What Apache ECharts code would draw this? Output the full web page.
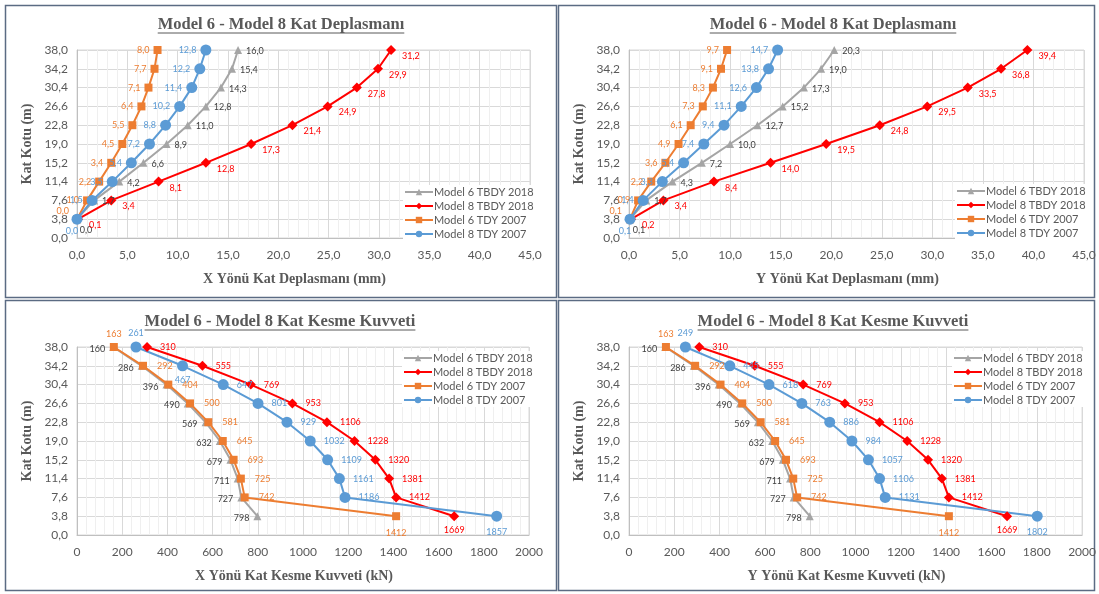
<!DOCTYPE html>
<html>
<head>
<meta charset="utf-8">
<script src="https://cdn.jsdelivr.net/npm/echarts@6.0.0/dist/echarts.min.js"></script>
<style>
  html, body { margin: 0; padding: 0; background: #fff; }
  #chart { width: 1099px; height: 594px; }
</style>
</head>
<body>
<div id="chart"></div>
<script>
// kat kotlari (m)
const heights = [3.8, 7.6, 11.4, 15.2, 19.0, 22.8, 26.6, 30.4, 34.2, 38.0];
const seriesNames = ['Model 6 TBDY 2018', 'Model 8 TBDY 2018', 'Model 6 TDY 2007', 'Model 8 TDY 2007'];

// X yonu kat deplasmani (mm)
const dispX_m6_tbdy = [0.0, 1.7, 4.2, 6.6, 8.9, 11.0, 12.8, 14.3, 15.4, 16.0];
const dispX_m8_tbdy = [0.1, 3.4, 8.1, 12.8, 17.3, 21.4, 24.9, 27.8, 29.9, 31.2];
const dispX_m6_tdy = [0.0, 1.0, 2.2, 3.4, 4.5, 5.5, 6.4, 7.1, 7.7, 8.0];
const dispX_m8_tdy = [0.0, 1.5, 3.5, 5.4, 7.2, 8.8, 10.2, 11.4, 12.2, 12.8];

// Y yonu kat deplasmani (mm)
const dispY_m6_tbdy = [0.1, 1.7, 4.3, 7.2, 10.0, 12.7, 15.2, 17.3, 19.0, 20.3];
const dispY_m8_tbdy = [0.2, 3.4, 8.4, 14.0, 19.5, 24.8, 29.5, 33.5, 36.8, 39.4];
const dispY_m6_tdy = [0.1, 0.9, 2.2, 3.6, 4.9, 6.1, 7.3, 8.3, 9.1, 9.7];
const dispY_m8_tdy = [0.1, 1.4, 3.3, 5.4, 7.4, 9.4, 11.1, 12.6, 13.8, 14.7];

// X yonu kat kesme kuvveti (kN)
const shearX_m6_tbdy = [798, 727, 711, 679, 632, 569, 490, 396, 286, 160];
const shearX_m8_tbdy = [1669, 1412, 1381, 1320, 1228, 1106, 953, 769, 555, 310];
const shearX_m6_tdy = [1412, 742, 725, 693, 645, 581, 500, 404, 292, 163];
const shearX_m8_tdy = [1857, 1186, 1161, 1109, 1032, 929, 801, 647, 467, 261];

// Y yonu kat kesme kuvveti (kN)
const shearY_m6_tbdy = [798, 727, 711, 679, 632, 569, 490, 396, 286, 160];
const shearY_m8_tbdy = [1669, 1412, 1381, 1320, 1228, 1106, 953, 769, 555, 310];
const shearY_m6_tdy = [1412, 742, 725, 693, 645, 581, 500, 404, 292, 163];
const shearY_m8_tdy = [1802, 1131, 1106, 1057, 984, 886, 763, 618, 445, 249];

const colors = ['#a5a5a5', '#ff0000', '#ed7d31', '#5b9bd5'];
const labelColors = ['#404040', '#ff0000', '#ed7d31', '#5b9bd5'];
const symbols = ['triangle', 'diamond', 'rect', 'circle'];
const symbolSizes = [8, 10, 8, 11];
const axisFont = 'Lato';
const serifFont = '"Liberation Serif", "DejaVu Serif", serif';

// label placement: default per series, then per-point tweaks
const topLabels = {
  pos: [
    { position: 'right', offset: [0, 1] },
    { position: 'right', offset: [2, 6] },
    { position: 'left', offset: [0, 0] },
    { position: 'left', offset: [0, 0] },
  ],
  special: [
    { 0: { position: 'bottom', offset: [9, -2] } },
    {},
    { 0: { position: 'left', offset: [0, -8] } },
    { 0: { position: 'bottom', offset: [-5, -2] } },
  ],
};
const botLabels = (blueSecondLast) => ({
  pos: [
    { position: 'left', offset: [0, 2] },
    { position: 'right', offset: [4, 0] },
    { position: 'right', offset: [6, 0] },
    { position: 'right', offset: [4, 0] },
  ],
  special: [
    {},
    { 0: { position: 'bottom', offset: [0, 0] } },
    { 0: { position: 'bottom', offset: [0, 4] }, 9: { position: 'top', offset: [0, 0] } },
    Object.assign({ 0: { position: 'bottom', offset: [0, 2] }, 9: { position: 'top', offset: [0, 0] } },
      blueSecondLast ? { 8: { position: 'bottom', offset: [0, 0] } } : {}),
  ],
});

const panels = [
  {
    grid: { left: 77, top: 50, width: 453, height: 188 },
    title: 'Model 6 - Model 8 Kat Deplasmanı', titleX: 281, titleY: 25,
    xName: 'X Yönü Kat Deplasmanı (mm)',
    xMax: 45, xInterval: 5, decimals: 1,
    data: [dispX_m6_tbdy, dispX_m8_tbdy, dispX_m6_tdy, dispX_m8_tdy],
    legend: { left: 403, top: 185 },
    labels: topLabels,
  },
  {
    grid: { left: 629, top: 50, width: 455, height: 188 },
    title: 'Model 6 - Model 8 Kat Deplasmanı', titleX: 833, titleY: 25,
    xName: 'Y Yönü Kat Deplasmanı (mm)',
    xMax: 45, xInterval: 5, decimals: 1,
    data: [dispY_m6_tbdy, dispY_m8_tbdy, dispY_m6_tdy, dispY_m8_tdy],
    legend: { left: 955, top: 184 },
    labels: topLabels,
  },
  {
    grid: { left: 77, top: 347, width: 452, height: 188 },
    title: 'Model 6 - Model 8 Kat Kesme Kuvveti', titleX: 280, titleY: 322,
    xName: 'X Yönü Kat Kesme Kuvveti (kN)',
    xMax: 2000, xInterval: 200, decimals: 0,
    data: [shearX_m6_tbdy, shearX_m8_tbdy, shearX_m6_tdy, shearX_m8_tdy],
    legend: { left: 402, top: 351 },
    labels: botLabels(true),
  },
  {
    grid: { left: 629, top: 347, width: 455, height: 188 },
    title: 'Model 6 - Model 8 Kat Kesme Kuvveti', titleX: 833, titleY: 322,
    xName: 'Y Yönü Kat Kesme Kuvveti (kN)',
    xMax: 2000, xInterval: 200, decimals: 0,
    data: [shearY_m6_tbdy, shearY_m8_tbdy, shearY_m6_tdy, shearY_m8_tdy],
    legend: { left: 952, top: 351 },
    labels: botLabels(false),
  },
];

function fmt(v, decimals) {
  return decimals ? Number(v).toFixed(decimals).replace('.', ',') : String(Math.round(v));
}

function measure(text, font) {
  const ctx = document.createElement('canvas').getContext('2d');
  ctx.font = font;
  return ctx.measureText(text).width;
}

const titleSize = 16.5;
const grids = [], xAxes = [], yAxes = [], series = [], legends = [], titles = [], graphics = [];

// panel frames
[[5, 5, 551, 292], [558, 5, 536, 292], [5, 300, 551, 290], [558, 300, 536, 290]].forEach((r) => {
  graphics.push({
    type: 'rect', silent: true, z: -1,
    shape: { x: r[0] + 0.5, y: r[1] + 0.5, width: r[2], height: r[3] },
    style: { fill: 'none', stroke: '#5b6b83', lineWidth: 1.5 },
  });
});

panels.forEach((p, i) => {
  grids.push(Object.assign({ show: true, borderColor: '#d9d9d9', borderWidth: 1, backgroundColor: 'transparent' }, p.grid));

  xAxes.push({
    type: 'value', gridIndex: i, min: 0, max: p.xMax, interval: p.xInterval,
    name: p.xName, nameLocation: 'middle', nameGap: 34,
    nameTextStyle: { fontFamily: serifFont, fontWeight: 'bold', fontSize: 14, color: '#595959', padding: [0, 18, 0, 0] },
    axisLine: { show: true, lineStyle: { color: '#bfbfbf' } },
    axisTick: { show: false },
    axisLabel: { color: '#595959', fontFamily: axisFont, fontSize: 12, margin: 11, formatter: (v) => fmt(v, p.decimals) },
    splitLine: { show: true, lineStyle: { color: '#d9d9d9' } },
    minorTick: { show: false, splitNumber: 5 },
    minorSplitLine: { show: true, lineStyle: { color: '#efefef' } },
  });

  yAxes.push({
    type: 'value', gridIndex: i, min: 0, max: 38, interval: 3.8,
    name: 'Kat Kotu (m)', nameLocation: 'middle', nameGap: 43, nameRotate: 90,
    nameTextStyle: { fontFamily: serifFont, fontWeight: 'bold', fontSize: 14, color: '#595959' },
    axisLine: { show: true, lineStyle: { color: '#bfbfbf' } },
    axisTick: { show: false },
    axisLabel: { color: '#595959', fontFamily: axisFont, fontSize: 12, margin: 9, formatter: (v) => fmt(v, 1) },
    splitLine: { show: true, lineStyle: { color: '#d9d9d9' } },
  });

  titles.push({
    text: p.title, left: p.titleX, top: p.titleY - titleSize / 2 - 1, textAlign: 'center', padding: 0,
    textStyle: { fontFamily: serifFont, fontWeight: 'bold', fontSize: titleSize, color: '#595959' },
  });
  const tw = measure(p.title, 'bold ' + titleSize + 'px "Liberation Serif"');
  graphics.push({
    type: 'line', silent: true,
    shape: { x1: p.titleX - tw / 2, y1: p.titleY + 8, x2: p.titleX + tw / 2, y2: p.titleY + 8 },
    style: { stroke: '#595959', lineWidth: 1 },
  });

  legends.push({
    data: seriesNames, orient: 'vertical', left: p.legend.left, top: p.legend.top,
    backgroundColor: '#fff', padding: [1, 3, 1, 1],
    itemWidth: 28, itemHeight: 8, itemGap: 2, selectedMode: false,
    textStyle: { color: '#595959', fontFamily: axisFont, fontSize: 11, lineHeight: 12, padding: [0, 0, 0, -4] },
  });

  p.data.forEach((vals, s) => {
    const base = p.labels.pos[s];
    const special = p.labels.special[s];
    series.push({
      name: seriesNames[s], type: 'line', xAxisIndex: i, yAxisIndex: i,
      symbol: symbols[s], symbolSize: symbolSizes[s],
      lineStyle: { color: colors[s], width: 2 },
      itemStyle: { color: colors[s] },
      label: {
        show: true, position: base.position, offset: base.offset, distance: 4,
        color: labelColors[s], fontFamily: axisFont, fontSize: 9,
        formatter: (d) => fmt(d.value[0], p.decimals),
      },
      data: vals.map((v, k) => {
        const item = { value: [v, heights[k]] };
        if (special[k]) item.label = special[k];
        return item;
      }),
    });
  });
});

const chart = echarts.init(document.getElementById('chart'), null, { renderer: 'canvas' });
chart.setOption({
  animation: false,
  backgroundColor: '#fff',
  title: titles,
  grid: grids,
  xAxis: xAxes,
  yAxis: yAxes,
  legend: legends,
  series: series,
  graphic: graphics,
});
window.addEventListener('resize', () => { chart.resize(); });
</script>
</body>
</html>
